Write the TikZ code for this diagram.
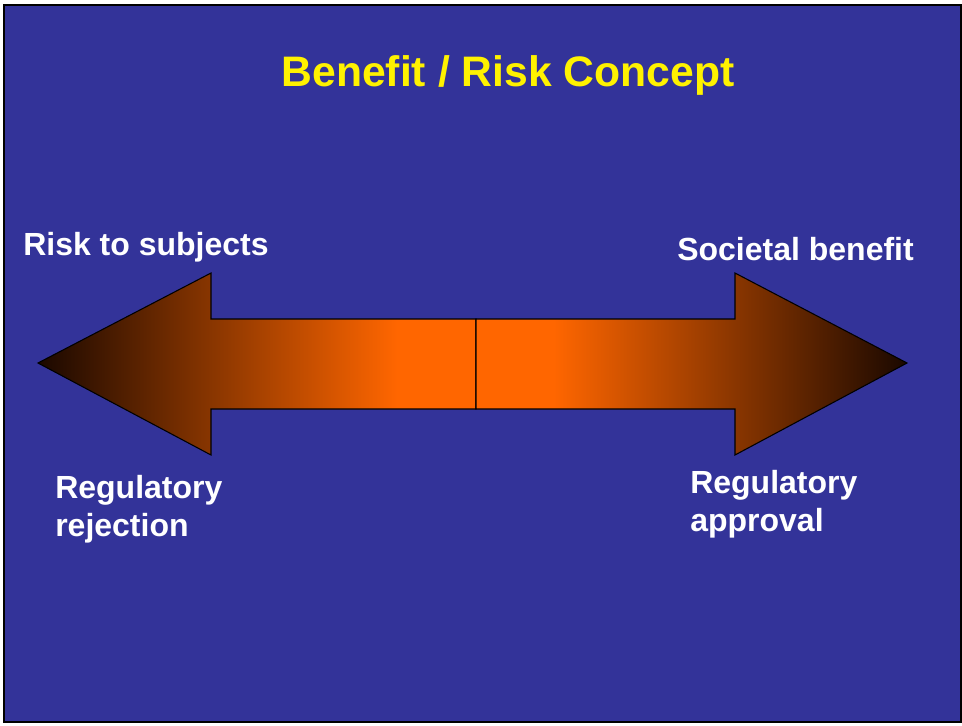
\documentclass[tikz,border=0pt]{standalone}
\usepackage{fontspec}
\setmainfont{Liberation Sans}

\definecolor{slideblue}{HTML}{333399}
\definecolor{riskorange}{HTML}{FF6600}
\definecolor{riskdark}{HTML}{1A0800}

% gradients for the two arrow halves
\pgfdeclarehorizontalshading{tipleft}{100bp}{color(0bp)=(riskdark); color(25bp)=(riskdark); color(66bp)=(riskorange); color(100bp)=(riskorange)}
\pgfdeclarehorizontalshading{tipright}{100bp}{color(0bp)=(riskorange); color(34bp)=(riskorange); color(75bp)=(riskdark); color(100bp)=(riskdark)}

\begin{document}
\begin{tikzpicture}[x=0.75pt,y=-0.75pt,
    title/.style={text=yellow,font=\bfseries\fontsize{32}{38}\selectfont,inner sep=0},
    side/.style={text=white,font=\bfseries\fontsize{24}{28.5}\selectfont,inner sep=0,align=left},
    half/.style={draw=black,line width=0.8pt,line join=miter}]

\useasboundingbox (0,0) rectangle (962,725);

% Slide
\draw[fill=slideblue,line width=1.9pt] (4,5) rectangle (961,722);

% Title
\node[title,anchor=base] (title) at (508,86) {Benefit / Risk Concept};

% Arrow, left half
\def\mid{476}
\shade[half,shading=tipleft]
(38,363) -- (211,273) -- (211,319) -- (\mid,319) -- (\mid,409) -- (211,409) -- (211,455) -- cycle;

% Arrow, right half
\shade[half,shading=tipright]
(907,363) -- (735,273) -- (735,319) -- (\mid,319) -- (\mid,409) -- (735,409) -- (735,455) -- cycle;

% Labels
\node[side,anchor=base west] (risk) at (23,255) {Risk to subjects};
\node[side,anchor=base west] (benefit) at (677,260) {Societal benefit};
\node[side,anchor=base west] (reject) at (55,536) {Regulatory\\rejection};
\node[side,anchor=base west] (approve) at (690,531) {Regulatory\\approval};

\end{tikzpicture}
\end{document}
